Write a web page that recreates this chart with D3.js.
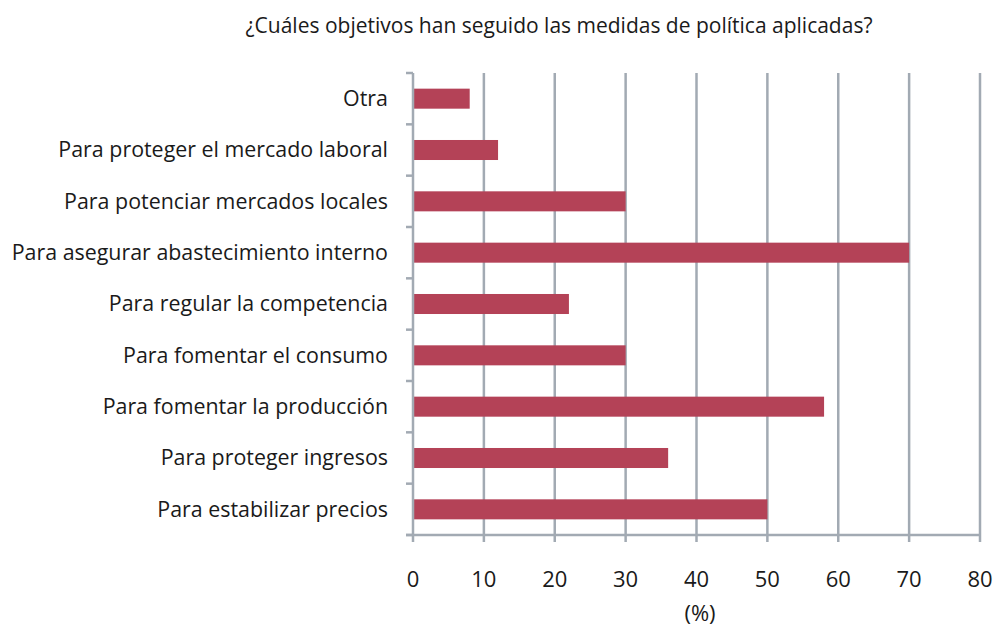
<!DOCTYPE html>
<html>
<head>
<meta charset="utf-8">
<script src="https://cdn.jsdelivr.net/npm/d3@7"></script>
<style>
  body { margin: 0; background: #fff; }
  text { font-family: "Open Sans", Lato, sans-serif; fill: #1a1a1a; }
</style>
</head>
<body>
<script>
// chart data
var categories = ["Otra", "Para proteger el mercado laboral", "Para potenciar mercados locales",
  "Para asegurar abastecimiento interno", "Para regular la competencia", "Para fomentar el consumo",
  "Para fomentar la producción", "Para proteger ingresos", "Para estabilizar precios"];
var values = [8, 12, 30, 70, 22, 30, 58, 36, 50];
var xTicks = [0, 10, 20, 30, 40, 50, 60, 70, 80];
var title = "¿Cuáles objetivos han seguido las medidas de política aplicadas?";
var xLabel = "(%)";

var width = 997, height = 632;
var plotLeft = 413, plotRight = 980, plotTop = 73, plotBottom = 535;
var gridColor = "#a2aab3";

var svg = d3.select("body").append("svg")
  .attr("width", width)
  .attr("height", height);

var x = d3.scaleLinear().domain([0, 80]).range([plotLeft, plotRight]);
var y = d3.scaleBand().domain(categories).range([plotTop, plotBottom]).paddingInner(0.61).paddingOuter(0.305);

// gridlines
svg.append("g").selectAll("line")
  .data(xTicks.slice(1))
  .enter().append("line")
  .attr("x1", function(d) { return x(d); })
  .attr("x2", function(d) { return x(d); })
  .attr("y1", plotTop).attr("y2", plotBottom + 7)
  .attr("stroke", gridColor).attr("stroke-width", 2.5);

// bars
svg.append("g").selectAll("rect")
  .data(values)
  .enter().append("rect")
  .attr("x", x(0))
  .attr("y", function(d, i) { return y(categories[i]); })
  .attr("width", function(d) { return x(d) - x(0); })
  .attr("height", y.bandwidth())
  .attr("fill", "#b44257");

// y axis line + ticks at band edges
svg.append("line").attr("x1", plotLeft).attr("x2", plotLeft).attr("y1", plotTop).attr("y2", plotBottom + 7)
  .attr("stroke", gridColor).attr("stroke-width", 2.5);
var step = (plotBottom - plotTop) / categories.length;
svg.append("g").selectAll("line")
  .data(d3.range(categories.length + 1))
  .enter().append("line")
  .attr("x1", plotLeft - 7).attr("x2", plotLeft)
  .attr("y1", function(d) { return plotTop + d * step; })
  .attr("y2", function(d) { return plotTop + d * step; })
  .attr("stroke", gridColor).attr("stroke-width", 2.5);

// x axis line
svg.append("line").attr("x1", plotLeft - 7).attr("x2", plotRight).attr("y1", plotBottom).attr("y2", plotBottom)
  .attr("stroke", gridColor).attr("stroke-width", 2.5);

// category labels
svg.append("g").selectAll("text")
  .data(categories)
  .enter().append("text")
  .attr("x", 388)
  .attr("y", function(d) { return y(d) + y.bandwidth() / 2; })
  .attr("dy", "0.35em")
  .attr("text-anchor", "end")
  .style("font-size", "21.4px")
  .text(function(d) { return d; });

// x tick labels
svg.append("g").selectAll("text")
  .data(xTicks)
  .enter().append("text")
  .attr("x", function(d) { return x(d); })
  .attr("y", 587)
  .attr("text-anchor", "middle")
  .style("font-size", "22px")
  .text(function(d) { return d; });

svg.append("text")
  .attr("x", 700).attr("y", 621)
  .attr("text-anchor", "middle")
  .style("font-size", "22px")
  .text(xLabel);

svg.append("text")
  .attr("x", 559).attr("y", 33)
  .attr("text-anchor", "middle")
  .style("font-size", "21px")
  .text(title);
</script>
</body>
</html>
